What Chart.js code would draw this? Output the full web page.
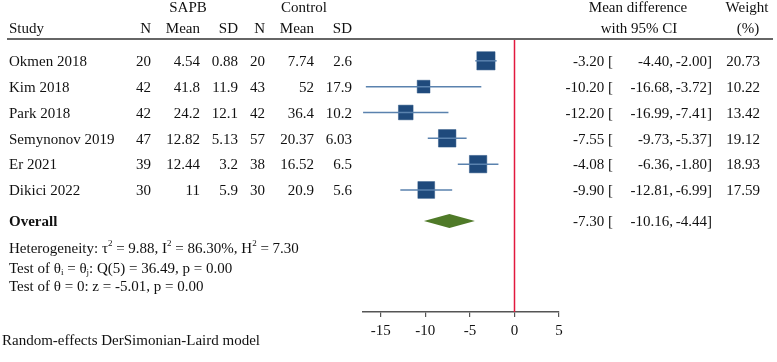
<!DOCTYPE html>
<html lang="en">
<head>
    <meta charset="UTF-8">
    <title>Forest plot</title>
    <script src="https://cdn.jsdelivr.net/npm/chart.js"></script>
    <style>
        body {
            margin: 0;
            background-color: white;
        }
        #forest {
            display: block;
        }
    </style>
</head>
<body>
    <canvas id="forest" width="777" height="362"></canvas>

    <script>
        // study data
        const studies = ['Okmen 2018', 'Kim 2018', 'Park 2018', 'Semynonov 2019', 'Er 2021', 'Dikici 2022'];
        const sapbN = [20, 42, 42, 47, 39, 30];
        const sapbMean = [4.54, 41.8, 24.2, 12.82, 12.44, 11];
        const sapbSD = [0.88, 11.9, 12.1, 5.13, 3.2, 5.9];
        const ctrlN = [20, 43, 42, 57, 38, 30];
        const ctrlMean = [7.74, 52, 36.4, 20.37, 16.52, 20.9];
        const ctrlSD = [2.6, 17.9, 10.2, 6.03, 6.5, 5.6];
        const meanDiff = [-3.20, -10.20, -12.20, -7.55, -4.08, -9.90];
        const ciLow = [-4.40, -16.68, -16.99, -9.73, -6.36, -12.81];
        const ciHigh = [-2.00, -3.72, -7.41, -5.37, -1.80, -6.99];
        const weights = [20.73, 10.22, 13.42, 19.12, 18.93, 17.59];
        const overallDiff = -7.30;
        const overallLow = -10.16;
        const overallHigh = -4.44;
        const xTicks = [-15, -10, -5, 0, 5];

        const FONT = "'Liberation Serif', 'Times New Roman', serif";
        const OVERALL_ROW = 6.2;

        // datasets: one CI line per study + squares
        const ciSets = studies.map((s, i) => ({
            type: 'scatter',
            data: [{x: ciLow[i], y: i}, {x: ciHigh[i], y: i}],
            showLine: true,
            borderColor: '#5a82ae',
            borderWidth: 1.5,
            pointRadius: 0
        }));

        const squareSet = {
            type: 'scatter',
            data: meanDiff.map((v, i) => ({x: v, y: i})),
            pointStyle: 'rect',
            backgroundColor: '#1f4a7c',
            borderColor: '#2a5585',
            borderWidth: 0.5,
            pointRadius: ctx => 4.0 * Math.sqrt(weights[ctx.dataIndex]) / Math.SQRT2
        };

        function fmt(v) {
            return v.toFixed(2);
        }

        // draws a row of text pieces, some of them raised or lowered
        function richText(ctx, parts, x, y) {
            let cx = x;
            parts.forEach(p => {
                const t = typeof p === 'string' ? p : p.t;
                const mode = typeof p === 'string' ? '' : p.m;
                if (mode === 'sup') {
                    ctx.font = '9px ' + FONT;
                    ctx.fillText(t, cx, y - 6);
                } else if (mode === 'sub') {
                    ctx.font = '9px ' + FONT;
                    ctx.fillText(t, cx, y + 4);
                } else {
                    ctx.font = '15px ' + FONT;
                    ctx.fillText(t, cx, y);
                }
                cx += ctx.measureText(t).width;
            });
        }

        const tablePlugin = {
            id: 'forestTable',
            beforeDatasetsDraw(chart) {
                const ctx = chart.ctx;
                const xs = chart.scales.x;
                const area = chart.chartArea;
                ctx.save();
                // header rule
                ctx.strokeStyle = '#333';
                ctx.lineWidth = 1.5;
                ctx.beginPath();
                ctx.moveTo(7, area.top - 1);
                ctx.lineTo(773, area.top - 1);
                ctx.stroke();
                // line of no effect
                const x0 = Math.round(xs.getPixelForValue(0)) + 0.5;
                ctx.strokeStyle = '#e2193f';
                ctx.lineWidth = 1.5;
                ctx.beginPath();
                ctx.moveTo(x0, area.top);
                ctx.lineTo(x0, area.bottom);
                ctx.stroke();
                ctx.restore();
            },
            afterDatasetsDraw(chart) {
                const ctx = chart.ctx;
                const xs = chart.scales.x;
                const ys = chart.scales.y;

                // overall diamond
                const yc = ys.getPixelForValue(OVERALL_ROW);
                ctx.save();
                ctx.fillStyle = '#4f7a28';
                ctx.beginPath();
                ctx.moveTo(xs.getPixelForValue(overallLow), yc);
                ctx.lineTo(xs.getPixelForValue(overallDiff), yc - 7);
                ctx.lineTo(xs.getPixelForValue(overallHigh), yc);
                ctx.lineTo(xs.getPixelForValue(overallDiff), yc + 7);
                ctx.closePath();
                ctx.fill();

                ctx.fillStyle = '#111';
                ctx.textBaseline = 'middle';
                ctx.font = '15px ' + FONT;

                // headers
                ctx.textAlign = 'center';
                ctx.fillText('SAPB', 188, 8);
                ctx.fillText('Control', 304, 8);
                ctx.fillText('Mean difference', 638, 8);
                ctx.fillText('with 95% CI', 639, 29);
                ctx.fillText('Weight', 747, 8);
                ctx.fillText('(%)', 748, 29);
                ctx.textAlign = 'left';
                ctx.fillText('Study', 9, 29);
                ctx.textAlign = 'right';
                ctx.fillText('N', 151, 29);
                ctx.fillText('Mean', 200, 29);
                ctx.fillText('SD', 238, 29);
                ctx.fillText('N', 265, 29);
                ctx.fillText('Mean', 314, 29);
                ctx.fillText('SD', 352, 29);

                // study rows
                studies.forEach((s, i) => {
                    const y = ys.getPixelForValue(i) + 1.3;
                    ctx.textAlign = 'left';
                    ctx.fillText(s, 9, y);
                    ctx.textAlign = 'right';
                    ctx.fillText(String(sapbN[i]), 151, y);
                    ctx.fillText(String(sapbMean[i]), 200, y);
                    ctx.fillText(String(sapbSD[i]), 238, y);
                    ctx.fillText(String(ctrlN[i]), 265, y);
                    ctx.fillText(String(ctrlMean[i]), 314, y);
                    ctx.fillText(String(ctrlSD[i]), 352, y);
                    ctx.fillText(fmt(meanDiff[i]) + ' [', 613, y);
                    ctx.fillText(fmt(ciLow[i]) + ',', 673, y);
                    ctx.fillText(fmt(ciHigh[i]) + ']', 712, y);
                    ctx.fillText(fmt(weights[i]), 760, y);
                });

                // overall row
                const yo = yc + 1;
                ctx.textAlign = 'right';
                ctx.fillText(fmt(overallDiff) + ' [', 613, yo);
                ctx.fillText(fmt(overallLow) + ',', 673, yo);
                ctx.fillText(fmt(overallHigh) + ']', 712, yo);
                ctx.textAlign = 'left';
                ctx.font = 'bold 15px ' + FONT;
                ctx.fillText('Overall', 9, yo);

                // notes
                richText(ctx, ['Heterogeneity: τ', {t: '2', m: 'sup'}, ' = 9.88, I', {t: '2', m: 'sup'},
                    ' = 86.30%, H', {t: '2', m: 'sup'}, ' = 7.30'], 9, ys.getPixelForValue(7.3));
                richText(ctx, ['Test of θ', {t: 'i', m: 'sub'}, ' = θ', {t: 'j', m: 'sub'},
                    ': Q(5) = 36.49, p = 0.00'], 9, ys.getPixelForValue(8.05));
                richText(ctx, ['Test of θ = 0: z = -5.01, p = 0.00'], 9, ys.getPixelForValue(8.77));
                richText(ctx, ['Random-effects DerSimonian-Laird model'], 2, 341.5);
                ctx.restore();
            }
        };

        new Chart(document.getElementById('forest'), {
            type: 'scatter',
            data: {
                datasets: [...ciSets, squareSet]
            },
            options: {
                responsive: false,
                animation: false,
                layout: {
                    padding: {left: 363, right: 218, top: 40, bottom: 17}
                },
                plugins: {
                    legend: {display: false},
                    tooltip: {enabled: false}
                },
                scales: {
                    x: {
                        type: 'linear',
                        position: 'bottom',
                        min: -17,
                        max: 5,
                        afterBuildTicks: scale => {
                            scale.ticks = xTicks.map(v => ({value: v}));
                        },
                        grid: {
                            drawOnChartArea: false,
                            drawTicks: true,
                            tickLength: 5,
                            color: '#555',
                            lineWidth: 1.2
                        },
                        border: {
                            display: true,
                            color: '#555',
                            width: 1.5
                        },
                        ticks: {
                            color: '#111',
                            padding: 5,
                            maxRotation: 0,
                            font: {family: FONT, size: 15}
                        }
                    },
                    y: {
                        type: 'linear',
                        display: false,
                        reverse: true,
                        min: -0.806,
                        max: 9.725
                    }
                }
            },
            plugins: [tablePlugin]
        });
    </script>
</body>
</html>
